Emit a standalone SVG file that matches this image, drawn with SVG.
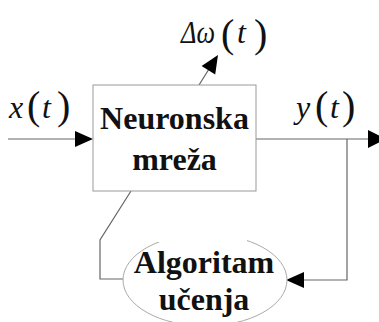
<svg xmlns="http://www.w3.org/2000/svg" width="379" height="322" viewBox="0 0 379 322">
  <style>
    .lbl { fill: #111; }
    .it { font-style: italic; font-size: 32px; }
    .par { font-size: 40px; }
    .node-text { font-weight: bold; font-size: 32px; fill: #111; text-anchor: middle; }
    .wire { fill: none; stroke: #666; stroke-width: 1.2; }
    .head { fill: #000; }
  </style>
  <rect width="379" height="322" fill="#fff"/>

  <!-- connectors -->
  <g id="connectors">
    <!-- input x(t) -->
    <line class="wire" x1="8" y1="139" x2="80" y2="139"/>
    <polygon class="head" points="93,139 75,131 75,147"/>
    <!-- output y(t) -->
    <line class="wire" x1="256" y1="139" x2="372" y2="139"/>
    <polygon class="head" points="386,139 368,130 368,148"/>
    <!-- weight update -->
    <line class="wire" x1="199" y1="85" x2="209" y2="69"/>
    <polygon class="head" points="218,55 201.6,65.9 215.2,74.5"/>
    <!-- feedback from output to learning algorithm -->
    <polyline class="wire" points="347,139 347,280 300,280"/>
    <polygon class="head" points="286,280 304,272 304,288"/>
    <!-- learning algorithm back to network -->
    <polyline class="wire" points="123,279 100,279 100,240 131,191"/>
  </g>

  <!-- neural network block -->
  <g id="neuronska-mreza" font-family="'Liberation Serif', serif">
    <rect x="93" y="85" width="163" height="106" fill="#fff" stroke="#999" stroke-width="1"/>
    <text class="node-text" x="174.5" y="129">Neuronska</text>
    <text class="node-text" x="174.5" y="170">mreža</text>
  </g>

  <!-- learning algorithm -->
  <g id="algoritam-ucenja" font-family="'Liberation Serif', serif">
    <ellipse cx="205" cy="280" rx="82" ry="46" fill="#fff" stroke="#aaa" stroke-width="1"/>
    <rect x="156" y="228" width="91" height="14" fill="#fff"/>
    <text class="node-text" x="204" y="273">Algoritam</text>
    <text class="node-text" x="204" y="310">učenja</text>
  </g>

  <!-- signal labels -->
  <g id="label-dw" class="lbl" font-family="'Liberation Serif', serif">
    <text class="it" x="181" y="43" textLength="34" lengthAdjust="spacingAndGlyphs">Δω</text>
    <text class="par" x="221" y="47">(</text>
    <text class="it" x="237" y="43">t</text>
    <text class="par" x="254" y="47">)</text>
  </g>
  <g id="label-x" class="lbl" font-family="'Liberation Serif', serif">
    <text class="it" x="9" y="118">x</text>
    <text class="par" x="27" y="119">(</text>
    <text class="it" x="42" y="118">t</text>
    <text class="par" x="57" y="119">)</text>
  </g>
  <g id="label-y" class="lbl" font-family="'Liberation Serif', serif">
    <text class="it" x="296" y="118">y</text>
    <text class="par" x="315" y="119">(</text>
    <text class="it" x="330" y="118">t</text>
    <text class="par" x="342" y="119">)</text>
  </g>
</svg>
